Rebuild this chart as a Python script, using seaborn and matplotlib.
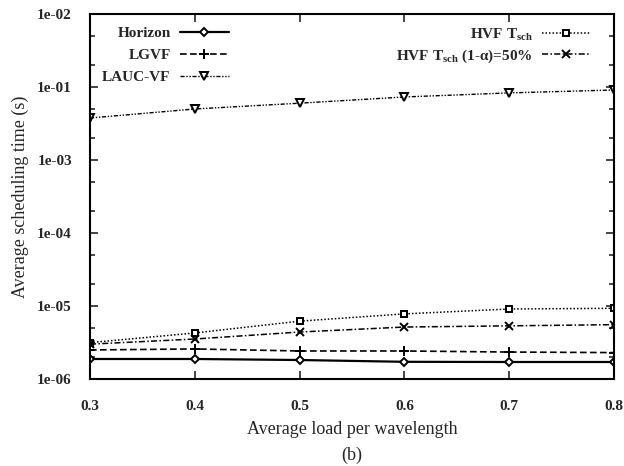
import matplotlib
matplotlib.use("Agg")
import matplotlib.pyplot as plt
import seaborn as sns
import numpy as np
import pandas as pd
from matplotlib.ticker import FixedLocator, NullFormatter

# ---- data ----
loads = [0.3, 0.4, 0.5, 0.6, 0.7, 0.8]
horizon = [1.88e-6, 1.88e-6, 1.82e-6, 1.72e-6, 1.71e-6, 1.71e-6]
lgvf = [2.50e-6, 2.58e-6, 2.42e-6, 2.42e-6, 2.34e-6, 2.30e-6]
laucvf = [3.76e-3, 5.0e-3, 6.0e-3, 7.3e-3, 8.3e-3, 9.1e-3]
hvf = [3.15e-6, 4.27e-6, 6.2e-6, 7.8e-6, 9.1e-6, 9.3e-6]
hvf50 = [3.0e-6, 3.53e-6, 4.4e-6, 5.15e-6, 5.35e-6, 5.55e-6]

ytick_vals = [1e-6, 1e-5, 1e-4, 1e-3, 1e-2, 1e-1]
ytick_labels = ["1e-06", "1e-05", "1e-04", "1e-03", "1e-01", "1e-02"]
xtick_vals = [0.3, 0.4, 0.5, 0.6, 0.7, 0.8]

sns.set_style("ticks")
plt.rcParams["font.family"] = ["Liberation Serif", "DejaVu Serif"]
plt.rcParams["mathtext.fontset"] = "custom"
plt.rcParams["mathtext.rm"] = "Liberation Serif"
plt.rcParams["mathtext.bf"] = "Liberation Serif:bold"

fig = plt.figure(figsize=(6.24, 4.66), dpi=100)
ax = fig.add_axes([90/624, 1-379/466, (614-90)/624, (379-14)/466])

series = [
    ("Horizon", horizon, "-", "D", 4.0, 1.6),
    ("LGVF", lgvf, (0, (4, 2)), "+", 6.5, 1.2),
    ("LAUC-VF", laucvf, (0, (3, 1.2, 1, 1.2, 1, 1.2)), "v", 5.5, 1.0),
    ("HVF T$_{\\mathbf{sch}}$", hvf, (0, (1, 1.3)), "s", 5.0, 1.1),
    ("HVF T$_{\\mathbf{sch}}$ (1-α)=50%", hvf50, (0, (4, 1.5, 1, 1.5)), "x", 5.5, 1.1),
]

handles = []
for name, vals, ls, mk, ms, lw in series:
    df = pd.DataFrame({"load": loads, "time": vals})
    sns.lineplot(data=df, x="load", y="time", ax=ax, color="black",
                 linestyle=ls, linewidth=lw, marker=mk, markersize=ms,
                 markerfacecolor="white", markeredgecolor="black",
                 markeredgewidth=1.4, label=name, legend=False)
    handles.append(ax.lines[-1])

ax.set_yscale("log")
ax.set_xlim(0.3, 0.8)
ax.set_ylim(1e-6, 1e-1)
ax.yaxis.set_major_locator(FixedLocator(ytick_vals))
ax.set_yticklabels(ytick_labels)
minor = []
for d in range(-6, -1):
    minor += [2 * 10.0**d, 5 * 10.0**d]
ax.yaxis.set_minor_locator(FixedLocator(minor))
ax.yaxis.set_minor_formatter(NullFormatter())
ax.set_xticks(xtick_vals)
ax.set_xticklabels([f"{v:.1f}" for v in xtick_vals])

ax.tick_params(which="both", direction="in", top=True, right=True,
               width=1.2, labelsize=11)
ax.tick_params(which="major", length=6)
ax.tick_params(axis="x", which="major", pad=15)
ax.tick_params(axis="y", which="major", pad=13)
ax.tick_params(which="minor", length=3.5)
for lab in ax.get_xticklabels() + ax.get_yticklabels():
    lab.set_fontweight("bold")
for s in ax.spines.values():
    s.set_linewidth(1.5)
    s.set_color("black")

ax.set_xlabel("Average load per wavelength", fontsize=13, labelpad=6)
ax.set_ylabel("Average scheduling time (s)", fontsize=13, labelpad=6)
fig.text(352/624, 1-455/466, "(b)", ha="center", va="center", fontsize=13)

leg1 = ax.legend(handles[:3], [s[0] for s in series[:3]], loc="upper left",
                 bbox_to_anchor=(0.0, 1.0), frameon=False, markerfirst=False,
                 prop={"weight": "bold", "size": 11}, handlelength=3.2,
                 labelspacing=0.55, borderaxespad=0.4, handletextpad=0.6)
ax.add_artist(leg1)
ax.legend(handles[3:], [s[0] for s in series[3:]], loc="upper right",
          bbox_to_anchor=(0.979, 1.0), frameon=False, markerfirst=False,
          prop={"weight": "bold", "size": 11}, handlelength=3.2,
          labelspacing=0.3, borderaxespad=0.4, handletextpad=0.6)

fig.savefig("out.png", dpi=100)
